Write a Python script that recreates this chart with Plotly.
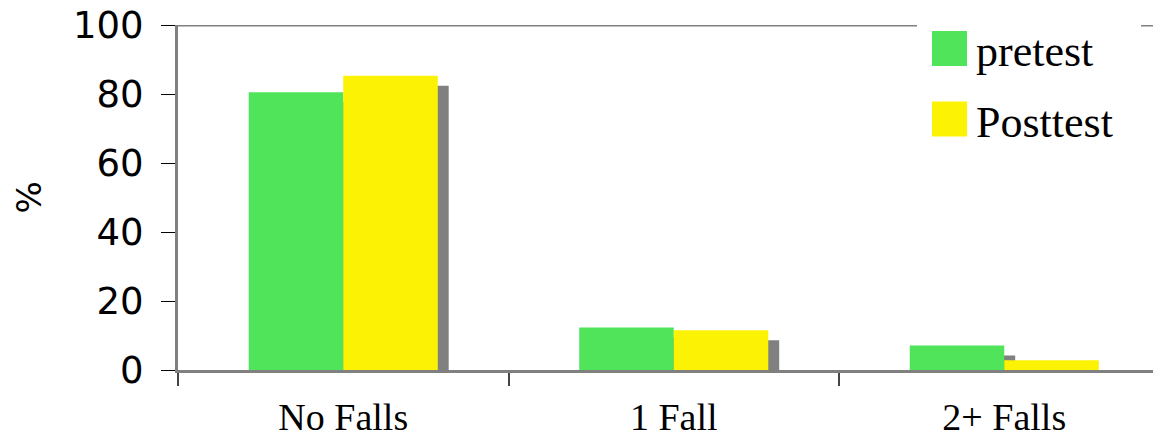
import plotly.graph_objects as go

# Fall counts before and after the programme (% of participants)
categories = ["No Falls", "1 Fall", "2+ Falls"]
series_names = ["pretest", "Posttest"]
pretest = [80.5, 12.3, 7.1]
posttest = [85.3, 11.5, 2.8]
y_ticks = [0, 20, 40, 60, 80, 100]
y_title = "%"

GREEN = "#4fe45a"
YELLOW = "#fcf203"
SHADOW = "#808080"

BAR_W = 0.286          # width of one bar, in category units
SHADOW_DX = 0.033      # drop-shadow shift to the right (category units)
SHADOW_DY = 2.9        # drop-shadow shift downwards (axis units)

fig = go.Figure()

# drop shadows first, so the coloured bars sit on top of them
for vals, off in ((pretest, -BAR_W), (posttest, 0.0)):
    fig.add_trace(go.Bar(
        x=categories, y=[v - SHADOW_DY for v in vals],
        width=BAR_W, offset=off + SHADOW_DX,
        marker=dict(color=SHADOW, line=dict(width=0)),
        showlegend=False, hoverinfo="skip",
    ))

for name, vals, off, col in ((series_names[0], pretest, -BAR_W, GREEN),
                             (series_names[1], posttest, 0.0, YELLOW)):
    fig.add_trace(go.Bar(
        x=categories, y=vals, name=name,
        width=BAR_W, offset=off,
        marker=dict(color=col, line=dict(width=0)),
        showlegend=False,
    ))

# frame line along the top of the plot area, then a white legend panel over it
shapes = [
    dict(type="line", xref="paper", yref="y", x0=0, x1=1, y0=100, y1=100,
         line=dict(color=SHADOW, width=3), layer="above"),
    dict(type="rect", xref="paper", yref="paper",
         x0=(917 - 178) / 975, x1=(1141 - 178) / 975,
         y0=(370 - 150) / 345, y1=(370 - 2) / 345,
         fillcolor="white", line=dict(width=0), layer="above"),
]
annotations = [
    # vertical axis title
    dict(text=y_title, xref="paper", yref="paper",
         x=(28 - 178) / 975, y=0.5, xanchor="center", yanchor="middle",
         textangle=-90, showarrow=False,
         font=dict(family="DejaVu Sans", size=34, color="black")),
]
legend_rows = [(series_names[0], GREEN, 48.5), (series_names[1], YELLOW, 119.0)]
for label, col, cy in legend_rows:
    shapes.append(dict(type="rect", xref="paper", yref="paper",
                       x0=(932 - 178) / 975, x1=(967 - 178) / 975,
                       y0=(370 - (cy + 17.5)) / 345, y1=(370 - (cy - 17.5)) / 345,
                       fillcolor=col, line=dict(width=0), layer="above"))
    annotations.append(dict(text=label, xref="paper", yref="paper",
                            x=(974 - 178) / 975, y=(370 - (cy + 3)) / 345,
                            xanchor="left", yanchor="middle", showarrow=False,
                            font=dict(family="Liberation Serif", size=44, color="black")))

fig.update_layout(
    width=1153, height=439,
    margin=dict(l=178, r=0, t=25, b=69),
    paper_bgcolor="white", plot_bgcolor="white",
    barmode="overlay",
    shapes=shapes, annotations=annotations,
    showlegend=False,
)

fig.update_xaxes(
    type="category", range=[-0.5, 2.45],
    tickson="boundaries", ticks="outside", ticklen=13, tickwidth=2, tickcolor="#444",
    showline=True, linecolor=SHADOW, linewidth=3,
    showgrid=False, layer="above traces",
    tickfont=dict(family="Liberation Serif", size=38, color="black"),
    ticklabelstandoff=11,
)

fig.update_yaxes(
    range=[0, 100], tickvals=y_ticks,
    ticks="outside", ticklen=14, tickwidth=1, tickcolor="black",
    showline=True, linecolor=SHADOW, linewidth=3,
    showgrid=False, zeroline=True, zerolinecolor="#222", zerolinewidth=1,
    layer="above traces",
    tickfont=dict(family="DejaVu Sans", size=37, color="black"),
    ticklabelstandoff=10,
)

fig.write_html("out.html")
